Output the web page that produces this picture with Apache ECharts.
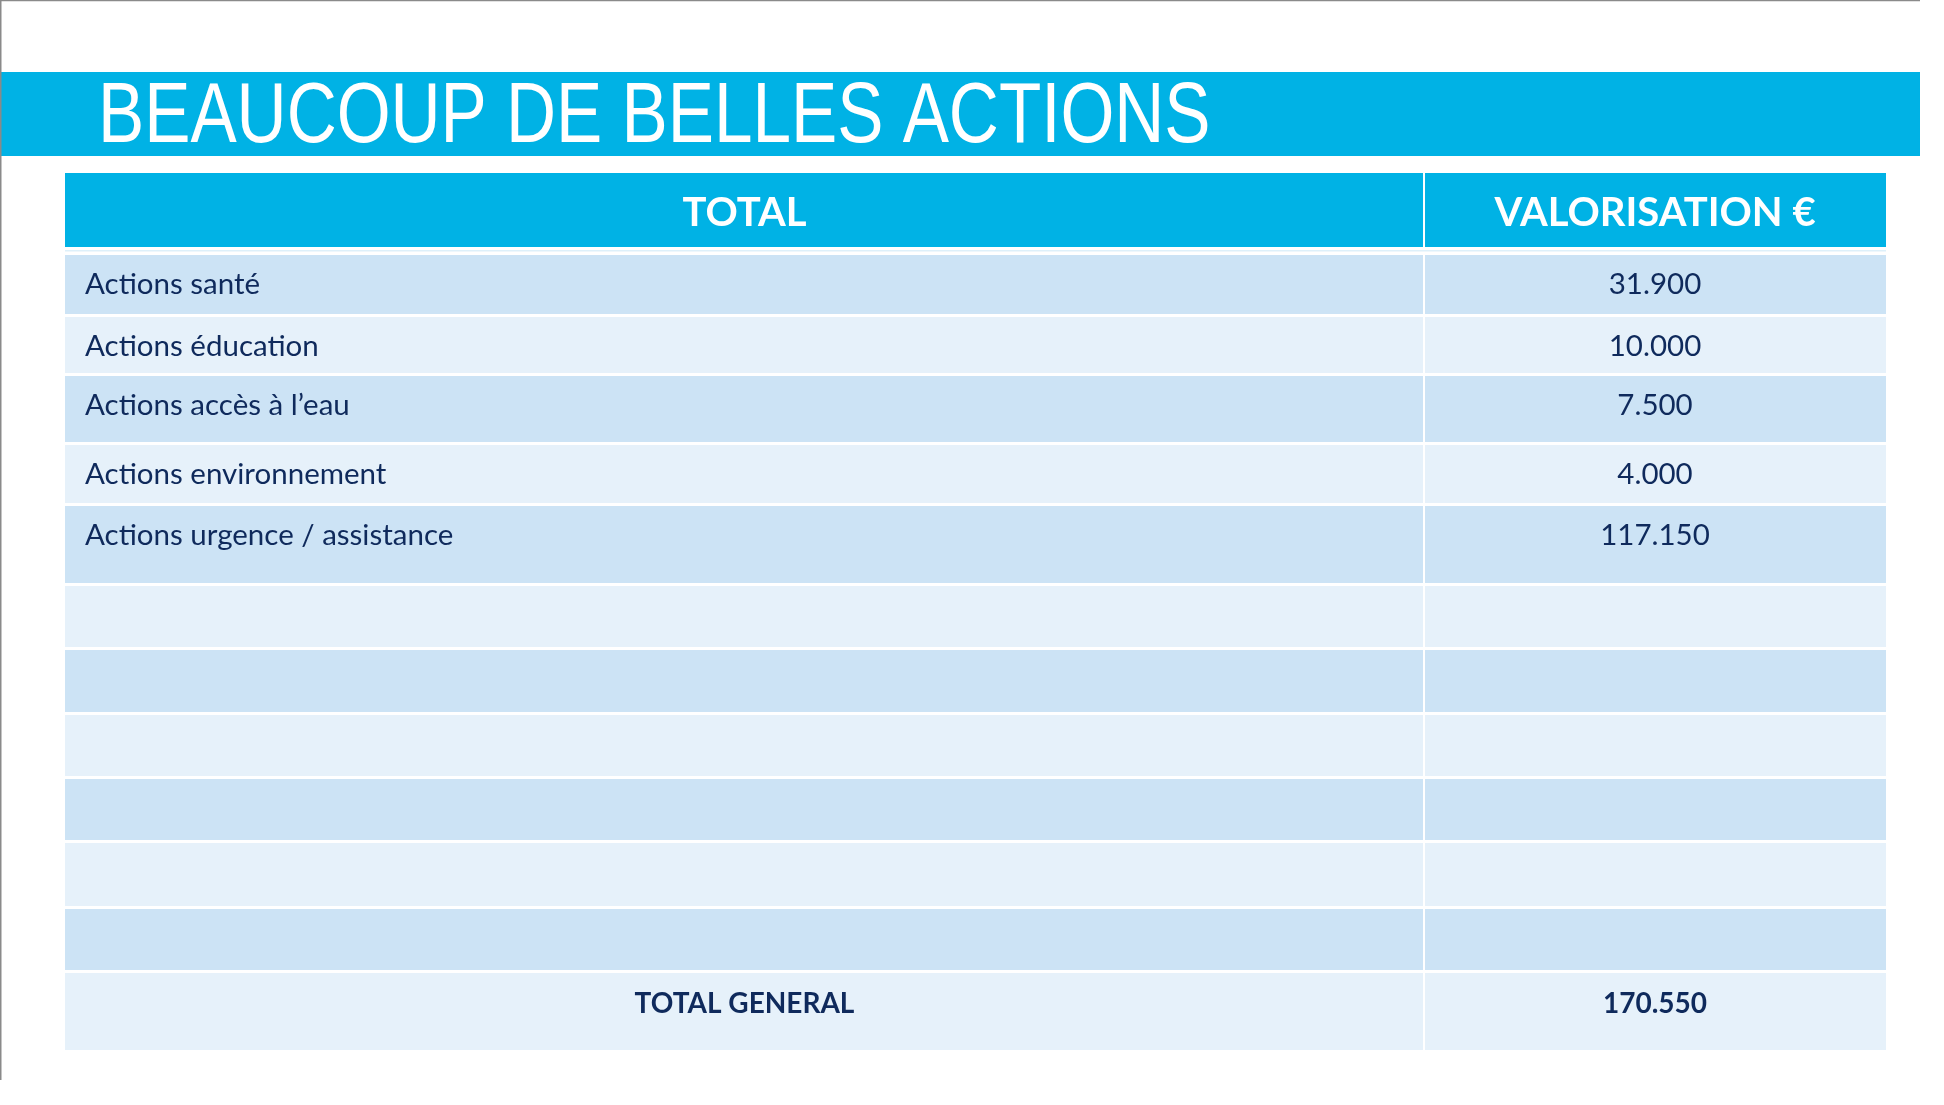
<!DOCTYPE html>
<html>
<head>
<meta charset="utf-8">
<script src="https://cdn.jsdelivr.net/npm/echarts@6/dist/echarts.min.js"></script>
<style>
  html, body { margin: 0; padding: 0; background: #ffffff; }
  #chart { width: 1944px; height: 1105px; }
</style>
</head>
<body>
<div id="chart"></div>
<script>
// ---- data ----
const titleText = 'BEAUCOUP DE BELLES ACTIONS';
const headers = ['TOTAL', 'VALORISATION €'];
const categories = [
  'Actions santé',
  'Actions éducation',
  'Actions accès à l’eau',
  'Actions environnement',
  'Actions urgence / assistance',
  '', '', '', '', '', ''
];
const values = [31900, 10000, 7500, 4000, 117150, null, null, null, null, null, null];
const totalLabel = 'TOTAL GENERAL';
const totalValue = 170550;

// ---- style / layout (row pitch = row height incl. the white gap, as in the slide table) ----
const ROW_PITCH = [82, 62, 59, 69, 61, 80, 64, 65, 64, 64, 66, 64, 80];
const BLUE = '#00B2E5';
const DARK = '#CCE3F5';
const LIGHT = '#E6F1FA';
const INK = '#0F2A5C';
const BODY_FONT = 'Lato, "Open Sans", sans-serif';
const TITLE_FONT = '"Liberation Sans", Arial, sans-serif';
const COL_SPLIT = 0.7463;

function fmt(n) {
  if (n === null || n === undefined) return '';
  return String(n).replace(/\B(?=(\d{3})+(?!\d))/g, '.');
}

const rows = [];
rows.push({ kind: 'header', left: headers[0], right: headers[1] });
categories.forEach((c, k) => {
  rows.push({ kind: 'data', left: c, right: fmt(values[k]), fill: k % 2 === 0 ? DARK : LIGHT });
});
rows.push({ kind: 'total', left: totalLabel, right: fmt(totalValue), fill: LIGHT });

const rowStart = [];
let acc = 0;
ROW_PITCH.forEach(p => { rowStart.push(acc); acc += p; });
const TABLE_SPAN = acc;

function renderItem(params, api) {
  const i = params.dataIndex;
  const r = rows[i];
  const a = api.coord([0, rowStart[i]]);
  const b = api.coord([0, rowStart[i] + ROW_PITCH[i]]);
  const top = a[1];
  const pitch = b[1] - a[1];
  const x0 = a[0];
  const x1 = api.coord([1, rowStart[i]])[0];
  const xs = api.coord([COL_SPLIT, rowStart[i]])[0];
  const children = [];
  if (r.kind === 'header') {
    const h = pitch - 8;
    children.push({ type: 'rect', shape: { x: x0, y: top, width: xs - x0 - 1, height: h }, style: { fill: BLUE } });
    children.push({ type: 'rect', shape: { x: xs + 1, y: top, width: x1 - xs - 1, height: h }, style: { fill: BLUE } });
    children.push({ type: 'rect', shape: { x: x0, y: top + h + 3, width: x1 - x0, height: 1.5 }, style: { fill: '#DDF0FA' } });
    const ty = top + h / 2 + 3;
    const font = { fontSize: 40, fontWeight: 'bold', fontFamily: BODY_FONT };
    children.push({ type: 'text', style: Object.assign({ text: r.left, x: (x0 + xs) / 2, y: ty, fill: '#ffffff', align: 'center', verticalAlign: 'middle' }, font) });
    children.push({ type: 'text', style: Object.assign({ text: r.right, x: (xs + x1) / 2, y: ty, fill: '#ffffff', align: 'center', verticalAlign: 'middle' }, font) });
  } else {
    const h = pitch - 3;
    children.push({ type: 'rect', shape: { x: x0, y: top, width: xs - x0 - 1, height: h }, style: { fill: r.fill } });
    children.push({ type: 'rect', shape: { x: xs + 1, y: top, width: x1 - xs - 1, height: h }, style: { fill: r.fill } });
    const bold = r.kind === 'total';
    const ty = top + (bold ? 31 : 29.5);
    const font = { fontSize: bold ? 28 : 29.5, fontWeight: bold ? 'bold' : 'normal', fontFamily: BODY_FONT };
    children.push({ type: 'text', style: Object.assign({ text: r.left, x: bold ? (x0 + xs) / 2 : x0 + 20, y: ty, fill: INK, align: bold ? 'center' : 'left', verticalAlign: 'middle' }, font) });
    children.push({ type: 'text', style: Object.assign({ text: r.right, x: (xs + x1) / 2, y: ty, fill: INK, align: 'center', verticalAlign: 'middle' }, font) });
  }
  return { type: 'group', children: children };
}

const chart = echarts.init(document.getElementById('chart'), null, { renderer: 'canvas' });
chart.setOption({
  animation: false,
  backgroundColor: '#ffffff',
  graphic: [
    { type: 'rect', z: -10, shape: { x: 0, y: 72, width: 1920, height: 84 }, style: { fill: BLUE } },
    { type: 'line', z: -10, shape: { x1: 0, y1: 0.5, x2: 1920, y2: 0.5 }, style: { stroke: '#8a8a8a', lineWidth: 1.5 } },
    { type: 'line', z: -10, shape: { x1: 0.75, y1: 0, x2: 0.75, y2: 1080 }, style: { stroke: '#8a8a8a', lineWidth: 1.5 } },
    {
      type: 'text', z: 10, x: 98, y: 119, scaleX: 0.815, scaleY: 1,
      style: { text: titleText, x: 0, y: 0, fill: '#ffffff', fontSize: 85, fontFamily: TITLE_FONT, align: 'left', verticalAlign: 'middle' }
    }
  ],
  grid: { left: 65, right: 58, top: 173, bottom: 1105 - 173 - TABLE_SPAN },
  xAxis: { type: 'value', min: 0, max: 1, show: false },
  yAxis: { type: 'value', min: 0, max: TABLE_SPAN, inverse: true, show: false },
  series: [{
    type: 'custom',
    renderItem: renderItem,
    data: rows.map((r, i) => [0, rowStart[i]]),
    silent: true
  }]
});
</script>
</body>
</html>
